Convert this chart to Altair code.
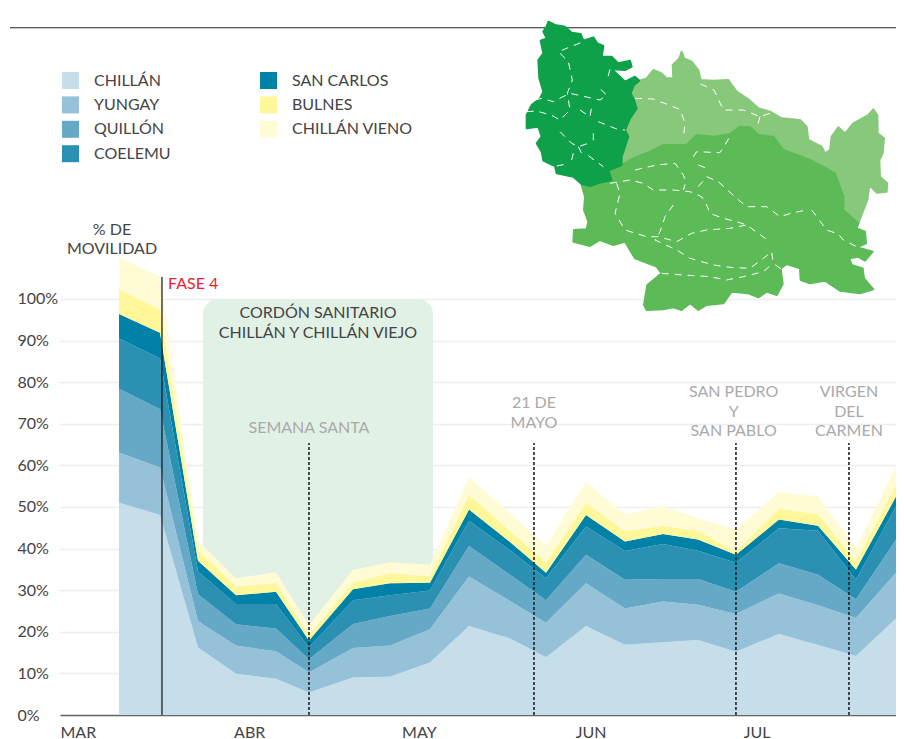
import altair as alt
import pandas as pd

# --- stacked series (percentage points of mobility per commune)
days = [10.54, 17.86, 24.64, 31.43, 38.57, 44.46, 52.32, 58.93, 66.07, 73.04, 80.36,
        86.79, 93.93, 100.89, 107.68, 113.93, 120.71, 128.39, 135.36, 142.14, 149.29]
chillan = [51.0, 48.1, 16.2, 9.9, 8.7, 5.4, 9.0, 9.2, 12.6, 21.4, 18.4, 13.9, 21.4, 16.9, 17.5, 18.0, 15.2, 19.5, 16.8, 14.2, 23.2]
yungay = [12.1, 11.4, 6.4, 6.8, 6.6, 4.8, 7.1, 7.5, 8.0, 11.9, 9.0, 8.3, 10.3, 8.7, 9.8, 8.5, 9.1, 9.7, 9.6, 9.1, 11.0]
quillon = [15.3, 14.0, 6.4, 5.1, 5.5, 3.2, 5.8, 7.1, 5.0, 7.3, 6.3, 5.4, 6.8, 6.9, 5.4, 6.2, 5.3, 7.3, 7.3, 4.5, 7.9]
coelemu = [12.1, 12.2, 5.5, 4.9, 5.9, 2.9, 5.7, 5.0, 4.3, 6.1, 5.9, 5.3, 6.8, 6.9, 8.4, 6.8, 7.0, 8.4, 10.6, 4.8, 8.0]
san_carlos = [5.9, 6.2, 2.6, 2.1, 2.9, 1.6, 2.6, 2.9, 1.9, 2.7, 2.0, 1.3, 2.8, 2.3, 2.4, 2.7, 1.9, 2.1, 1.2, 2.4, 2.4]
bulnes = [6.0, 5.6, 2.6, 2.0, 2.1, 1.3, 1.6, 2.4, 1.5, 3.5, 2.7, 2.5, 2.9, 2.5, 2.0, 2.1, 0.8, 2.6, 2.8, 1.9, 2.8]
chillan_vieno = [7.5, 7.9, 2.2, 2.1, 2.6, 2.4, 3.1, 2.6, 2.8, 4.2, 4.2, 4.0, 4.9, 4.1, 4.8, 3.0, 5.3, 4.0, 4.3, 3.2, 4.6]

names = ["CHILLÁN", "YUNGAY", "QUILLÓN", "COELEMU", "SAN CARLOS", "BULNES", "CHILLÁN VIENO"]
colors = ["#c6deea", "#96c2d9", "#65a9c6", "#2c90b2", "#0081a7", "#fff79a", "#fffbd5"]
series = [chillan, yungay, quillon, coelemu, san_carlos, bulnes, chillan_vieno]

month_days = [0, 31, 61, 92, 122]
month_labels = ["MAR", "ABR", "MAY", "JUN", "JUL"]
pct_ticks = [0, 10, 20, 30, 40, 50, 60, 70, 80, 90, 100]

# --- annotations, in the chart's own units (day, percent)
dark_notes = [(9.29, 116.7, "% DE\nMOVILIDAD"),
              (46.07, 96.6, "CORDÓN SANITARIO\nCHILLÁN Y CHILLÁN VIEJO")]
grey_notes = [(44.46, 68.9, "SEMANA SANTA"), (84.64, 74.9, "21 DE\nMAYO"),
              (120.3, 77.6, "SAN PEDRO\nY\nSAN PABLO"), (140.89, 77.6, "VIRGEN\nDEL\nCARMEN")]
phase_day, phase_top = 18.21, 105.3
holiday_days = [44.46, 84.64, 120.71, 140.89]
holiday_top = 65.4
cordon = (25.54, 66.61, 15, 100)

# --- map outlines, in map units
itata = [(115,35),(135,45),(165,50),(185,68),(212,72),(220,92),(250,82),(262,100),(280,108),(275,140),(305,140),(325,160),(360,152),(365,170),(345,180),(305,178),(330,200),(345,215),(375,200),(388,212),(372,225),(362,250),(372,270),(380,295),(360,325),(345,360),(355,380),(345,410),(335,440),(335,465),(295,482),(305,510),(270,518),(240,528),(215,522),(190,500),(140,490),(135,468),(100,452),(95,425),(80,400),(95,380),(85,350),(50,355),(50,315),(65,285),(90,265),(100,245),(88,205),(85,150),(100,130),(92,92),(110,85),(100,65),(110,50),(115,35)]
punilla = [(388,212),(410,205),(430,180),(455,190),(470,205),(490,205),(488,165),(508,145),(515,125),(522,145),(545,155),(565,180),(572,210),(610,212),(655,210),(680,245),(715,268),(745,295),(780,305),(815,325),(870,330),(890,350),(895,390),(935,410),(945,430),(960,420),(965,380),(985,352),(1005,370),(1030,340),(1075,315),(1090,298),(1102,315),(1103,370),(1122,385),(1118,430),(1108,450),(1110,500),(1132,520),(1130,545),(1100,548),(1078,525),(1072,570),(1045,640),(1000,600),(1000,560),(975,490),(940,470),(900,450),(860,435),(820,420),(790,380),(745,375),(720,352),(690,350),(660,372),(615,380),(560,375),(530,405),(460,405),(420,425),(370,445),(335,465),(335,440),(345,410),(355,380),(345,360),(360,325),(380,295),(372,270),(362,250),(372,225),(388,212)]
diguillin = [(295,482),(335,465),(370,445),(420,425),(460,405),(530,405),(560,375),(615,380),(660,372),(690,350),(720,352),(745,375),(790,380),(820,420),(860,435),(900,450),(940,470),(975,490),(1000,560),(1000,600),(1045,640),(1040,655),(1065,665),(1068,700),(1040,712),(1088,725),(1065,752),(1045,740),(1018,745),(1025,765),(1058,775),(1062,805),(1090,838),(1050,850),(990,842),(945,812),(900,820),(872,810),(870,775),(830,762),(812,775),(818,822),(800,855),(770,845),(745,862),(715,850),(665,845),(640,880),(590,885),(565,900),(540,880),(515,900),(490,892),(460,898),(410,900),(402,885),(412,825),(455,790),(440,770),(375,745),(345,695),(310,705),(270,690),(240,708),(190,695),(192,660),(230,658),(235,635),(222,600),(225,560),(215,525),(240,528),(270,518),(305,510),(295,482)]
borders = [
    [(50,305),(80,303),(125,316),(150,330),(180,300),(172,250),(187,210),(175,155),(145,125),(170,115),(215,97)],
    [(75,270),(95,265),(130,275),(155,262),(180,250),(270,270),(290,255),(272,238)],
    [(150,365),(185,400),(205,410),(235,400)], [(250,370),(250,395)], [(185,450),(190,430)],
    [(205,410),(215,430)], [(235,437),(280,470)], [(140,468),(170,462)],
    [(265,335),(320,357),(345,360)], [(210,300),(240,320),(245,290)], [(300,178),(290,215)],
    [(375,265),(430,267),(510,298),(525,340),(520,385)],
    [(572,222),(612,240),(640,300),(700,300),(750,320),(780,310)], [(750,320),(740,355)],
    [(550,440),(560,425),(630,428),(660,380)],
    [(375,480),(440,465),(495,460),(520,495),(528,515),(520,540)],
    [(300,520),(360,510),(400,520),(430,540),(490,540),(540,545),(575,560),(590,585),(600,610),(640,625),(680,635),(710,645),(780,695)],
    [(565,465),(590,475)],
    [(565,530),(590,500),(625,515),(680,565),(710,590),(770,590),(810,620),(850,608),(890,600)],
    [(905,600),(950,660),(985,672),(1000,690),(1040,710)],
    [(320,520),(330,550),(315,610),(345,660),(410,680),(445,680),(500,695),(545,670),(590,660),(660,655),(710,645)],
    [(490,585),(465,620),(450,665),(435,690),(500,720),(540,745),(610,765),(660,772),(720,775),(760,745),(785,725),(790,760),(815,778)],
    [(455,790),(520,795),(600,800),(650,810),(700,800),(760,785),(780,768)],
]

FONT = "Lato"
FS = 16
INK = "#444444"
x_scale = alt.Scale(domain=[0, 149.29], nice=False, zero=False)
y_scale = alt.Scale(domain=[0, 169.95], nice=False, zero=False)

rows = [{"day": d, "pct": v, "zona": n, "k": i}
        for i, (n, s) in enumerate(zip(names, series)) for d, v in zip(days, s)]

month_expr = "{" + ",".join(f"'{d}':'{l}'" for d, l in zip(month_days, month_labels)) + "}[datum.value]"
x_axis = alt.Axis(values=month_days, labelExpr=month_expr, grid=False, ticks=False, title=None,
                  labelAlign="left", labelPadding=9, labelFontSize=FS, labelColor=INK,
                  labelFont=FONT, domainColor="#666", domainWidth=1.5, labelFlush=False,
                  labelOverlap=False)
y_axis = alt.Axis(values=pct_ticks, labelExpr="datum.value + '%'", grid=True, gridColor="#eeeeee",
                  gridWidth=1.5, ticks=False, domain=False, labelAlign="left", labelPadding=43, title=None,
                  labelFontSize=FS, labelColor=INK, labelFont=FONT, labelOverlap=False)

x_enc = alt.X("day:Q", scale=x_scale, axis=x_axis)
y_enc = alt.Y("pct:Q", scale=y_scale, axis=y_axis)

areas = alt.Chart(pd.DataFrame(rows)).mark_area(interpolate="linear", opacity=1).encode(
    x=x_enc,
    y=alt.Y("pct:Q", scale=y_scale, stack="zero", axis=y_axis),
    color=alt.Color("zona:N", scale=alt.Scale(domain=names, range=colors),
                    legend=alt.Legend(orient="none", legendX=2, legendY=64, columns=2, title=None,
                                      symbolType="square", symbolSize=289, symbolStrokeWidth=0,
                                      symbolOpacity=1, labelFont=FONT, labelFontSize=FS, labelColor=INK,
                                      labelOffset=15, rowPadding=7.4, columnPadding=89,
                                      gridAlign="each", labelLimit=200)),
    order=alt.Order("k:Q", sort="ascending"),
)

rect = alt.Chart(pd.DataFrame([{"day": cordon[0], "day2": cordon[1], "pct": cordon[3], "pct2": cordon[2]}])).mark_rect(
    color="#e2f1e6", cornerRadius=15).encode(x=x_enc, x2="day2:Q", y=y_enc, y2="pct2:Q")

top_rule = alt.Chart(pd.DataFrame([{"a": -8.93, "b": 149.29, "pct": 165.2}])).mark_rule(
    color="#222", strokeWidth=1.2, clip=False).encode(x=alt.X("a:Q", scale=x_scale, axis=x_axis), x2="b:Q", y=y_enc)

phase = alt.Chart(pd.DataFrame([{"day": phase_day, "pct": 0, "top": phase_top}])).mark_rule(
    color="#111", strokeWidth=1.2).encode(x=x_enc, y=y_enc, y2="top:Q")

holidays = alt.Chart(pd.DataFrame([{"day": d, "pct": 0, "top": holiday_top} for d in holiday_days])).mark_rule(
    color="#222", strokeWidth=1.6, strokeDash=[3, 2]).encode(x=x_enc, y=y_enc, y2="top:Q")


def notes(data, color, align="center"):
    df = pd.DataFrame([{"day": r[0], "pct": r[1], "t": r[2]} for r in data])
    return alt.Chart(df).mark_text(font=FONT, fontSize=FS, color=color, align=align, baseline="middle",
                                   lineBreak="\n", lineHeight=19.5).encode(x=x_enc, y=y_enc, text="t:N")


dark = notes(dark_notes, INK)
grey = notes(grey_notes, "#aaaaaa")
red = notes([(19.29, 103.6, "FASE 4")], "#ee1c2e", "left")

proj = dict(type="identity", scale=1 / 3, translate=[450, 2])


def poly(ring):
    return {"type": "Feature", "properties": {},
            "geometry": {"type": "Polygon", "coordinates": [[list(p) for p in ring]]}}


def region(ring, color):
    return alt.Chart(alt.Data(values=[poly(ring)])).mark_geoshape(
        fill=color, stroke=color, strokeWidth=2, strokeJoin="round").project(**proj)


dash_lines = alt.Chart(alt.Data(values=[{"type": "Feature", "properties": {}, "geometry": {
    "type": "MultiLineString", "coordinates": [[list(p) for p in l] for l in borders]}}])).mark_geoshape(
    filled=False, stroke="white", strokeWidth=1, strokeDash=[7, 6]).project(**proj)

chart = alt.layer(
    rect, areas, top_rule, phase, holidays, dark, grey, red,
    region(punilla, "#87c87a"), region(diguillin, "#5dbb57"), region(itata, "#0fa14a"), dash_lines,
).properties(
    width=836, height=707,
    padding={"left": 52, "top": 0, "right": 0, "bottom": 24},
    autosize=alt.AutoSizeParams(type="none"),
).configure_view(stroke=None)

chart.save("out.html", embed_options={"renderer": "svg", "actions": False})
